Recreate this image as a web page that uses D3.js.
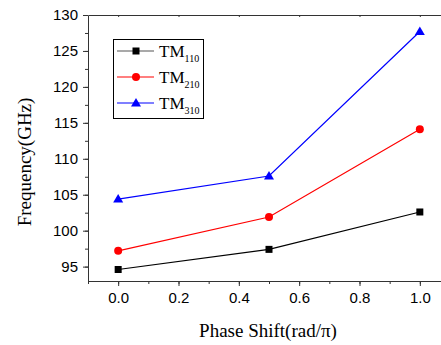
<!DOCTYPE html>
<html>
<head>
<meta charset="utf-8">
<script src="https://cdn.jsdelivr.net/npm/d3@7"></script>
<style>
  body { margin: 0; background: #fff; }
  .axis path, .axis line { stroke: #333; }
  .axis text { font-family: "Liberation Sans", Arial, sans-serif; font-size: 15px; fill: #000; }
</style>
</head>
<body>
<script>
var Width = 441;
var Height = 345;

// data
var phase = [0.0, 0.5, 1.0];
var tm110 = [94.6, 97.4, 102.6];
var tm210 = [97.2, 101.9, 114.1];
var tm310 = [104.4, 107.6, 127.7];
var seriesNames = ["110", "210", "310"];
var seriesColors = ["#000000", "#ff0000", "#0000ff"];
var xTicks = [0.0, 0.2, 0.4, 0.6, 0.8, 1.0];
var yTicks = [95, 100, 105, 110, 115, 120, 125, 130];

var Left = 88, Top = 15, Bottom = 281;

function main () {
  var svg = d3.select("body").append("svg")
    .attr("width", Width)
    .attr("height", Height);

  var xScale = d3.scaleLinear().domain([-0.1, 1.1]).range([Left, Left + 362]);
  var yScale = d3.scaleLinear().domain([93, 130]).range([Bottom, Top]);

  makeAxes(svg, xScale, yScale);

  var allSeries = [tm110, tm210, tm310];
  var line = d3.line()
    .x(function(d, i) { return xScale(phase[i]); })
    .y(function(d) { return yScale(d); });

  allSeries.forEach(function(vals, s) {
    svg.append("path")
      .attr("d", line(vals))
      .attr("fill", "none")
      .attr("stroke", seriesColors[s])
      .attr("stroke-width", 1.2);
    vals.forEach(function(v, i) {
      drawMarker(svg, s, xScale(phase[i]), yScale(v));
    });
  });

  makeLegend(svg);

  svg.append("text")
    .attr("x", 268)
    .attr("y", 337)
    .attr("text-anchor", "middle")
    .style("font-family", "'Liberation Serif', 'Times New Roman', serif")
    .style("font-size", "19px")
    .text("Phase Shift(rad/\u03c0)");

  svg.append("text")
    .attr("transform", "translate(31,162) rotate(-90)")
    .attr("text-anchor", "middle")
    .style("font-family", "'Liberation Serif', 'Times New Roman', serif")
    .style("font-size", "19px")
    .text("Frequency(GHz)");
}

function drawMarker (svg, s, x, y) {
  var col = seriesColors[s];
  if (s === 0) {
    svg.append("rect").attr("x", x - 3.5).attr("y", y - 3.5)
      .attr("width", 7).attr("height", 7).attr("fill", col);
  } else if (s === 1) {
    svg.append("circle").attr("cx", x).attr("cy", y).attr("r", 4).attr("fill", col);
  } else {
    svg.append("path")
      .attr("d", "M" + x + "," + (y - 5) + "L" + (x + 5) + "," + (y + 3.5) + "L" + (x - 5) + "," + (y + 3.5) + "Z")
      .attr("fill", col);
  }
}

function makeAxes (svg, xScale, yScale) {
  var xMinor = d3.range(-0.1, 1.11, 0.1);
  var yMinor = d3.range(92.5, 130.1, 2.5);

  // minor ticks
  svg.append("g").attr("class", "axis")
    .attr("transform", "translate(0," + Bottom + ")")
    .call(d3.axisBottom(xScale).tickValues(xMinor).tickSize(3).tickFormat(""))
    .select(".domain").remove();
  svg.append("g").attr("class", "axis")
    .attr("transform", "translate(" + Left + ",0)")
    .call(d3.axisLeft(yScale).tickValues(yMinor.filter(function(v) { return v >= 93; })).tickSize(3).tickFormat(""))
    .select(".domain").remove();

  // major axes
  svg.append("g").attr("class", "axis")
    .attr("transform", "translate(0," + Bottom + ")")
    .call(d3.axisBottom(xScale).tickValues(xTicks).tickSize(5).tickSizeOuter(0)
      .tickPadding(6).tickFormat(d3.format(".1f")));
  svg.append("g").attr("class", "axis")
    .attr("transform", "translate(" + Left + ",0)")
    .call(d3.axisLeft(yScale).tickValues(yTicks).tickSize(5).tickSizeOuter(0).tickPadding(5));

  // top frame
  svg.append("g").attr("class", "axis")
    .attr("transform", "translate(0," + Top + ")")
    .call(d3.axisBottom(xScale).tickValues(xTicks).tickSize(2).tickSizeOuter(0).tickFormat(""));
}

function makeLegend (svg) {
  var g = svg.append("g");
  g.append("rect")
    .attr("x", 113.5).attr("y", 39.5)
    .attr("width", 90).attr("height", 79)
    .attr("fill", "#fff").attr("stroke", "#000").attr("stroke-width", 1);
  seriesNames.forEach(function(name, s) {
    var y = 51 + s * 26;
    g.append("line")
      .attr("x1", 117).attr("x2", 154).attr("y1", y).attr("y2", y)
      .attr("stroke", s === 0 ? "#555" : seriesColors[s]).attr("stroke-width", 1.2);
    drawMarker(g, s, 136, y);
    var t = g.append("text")
      .attr("x", 159).attr("y", y + 6)
      .style("font-family", "'Liberation Serif', 'Times New Roman', serif")
      .style("font-size", "17px");
    t.append("tspan").text("TM");
    t.append("tspan").attr("dy", 5).style("font-size", "10px").text(name);
  });
}

main();
</script>
</body>
</html>
